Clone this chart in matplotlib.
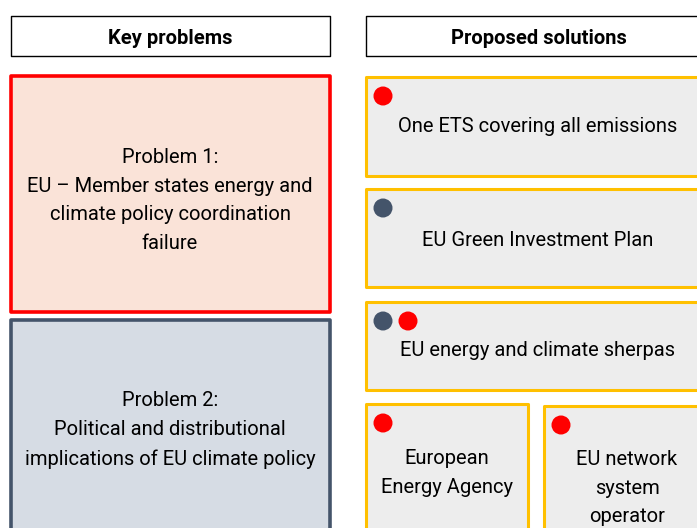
import matplotlib.pyplot as plt
from matplotlib.patches import Rectangle, Circle

# textos do diagrama
headers = ["Key problems", "Proposed solutions"]
problems = ["Problem 1:\nEU \u2013 Member states energy and\nclimate policy coordination\nfailure",
            "Problem 2:\nPolitical and distributional\nimplications of EU climate policy"]
solutions = ["One ETS covering all emissions",
             "EU Green Investment Plan",
             "EU energy and climate sherpas",
             "European\nEnergy Agency",
             "EU network\nsystem\noperator"]
# qual problema cada solucao atende (1 = vermelho, 2 = cinza)
solution_tags = [[1], [2], [2, 1], [1], [1]]

RED = "#FF0000"
SLATE = "#44546A"
GOLD = "#FFC000"
tag_colors = {1: RED, 2: SLATE}

plt.rcParams['font.family'] = ['Roboto', 'DejaVu Sans']
FS = 14.5
LS = 1.66

fig = plt.figure(figsize=(6.97, 5.28), dpi=100)
ax = fig.add_axes([0, 0, 1, 1])
ax.set_xlim(0, 697)
ax.set_ylim(528, 0)
ax.axis("off")

def box(x0, y0, x1, y1, face, edge, lw):
    ax.add_patch(Rectangle((x0, y0), x1 - x0, y1 - y0, facecolor=face,
                           edgecolor=edge, linewidth=lw, joinstyle="round"))

# cabecalhos
header_boxes = [(11, 16, 330, 56), (366, 16, 720, 56)]
header_x = [170, 539]
for (x0, y0, x1, y1), hx, h in zip(header_boxes, header_x, headers):
    box(x0, y0, x1, y1, "white", "black", 1.0)
    ax.text(hx, 38.5, h, ha="center", va="center", fontsize=FS, fontweight="bold")

# problemas
box(11, 76, 330, 312, "#FAE3D8", RED, 2.6)
box(11, 320, 330, 560, "#D6DCE4", SLATE, 2.6)
ax.text(170, 200.5, problems[0], ha="center", va="center", fontsize=FS,
        linespacing=LS)
ax.text(170, 430, problems[1], ha="center", va="center", fontsize=FS,
        linespacing=LS)

# solucoes
sol_boxes = [(366, 77, 720, 176), (366, 189, 720, 287), (366, 302, 720, 390),
             (366, 404, 528, 560), (544, 406, 720, 560)]
text_pos = [(538, 127), (538, 241), (538, 350), (447, 473), (627, 488)]
for (x0, y0, x1, y1), lab, (tx, ty), tags in zip(sol_boxes, solutions, text_pos, solution_tags):
    box(x0, y0, x1, y1, "#EDEDED", GOLD, 2.2)
    ax.text(tx, ty, lab, ha="center", va="center", fontsize=FS,
            linespacing=LS)
    for k, t in enumerate(tags):
        ax.add_patch(Circle((x0 + 17 + 25 * k, y0 + 19), 9.5,
                            facecolor=tag_colors[t], edgecolor="none"))

fig.savefig("out.png", dpi=100)
